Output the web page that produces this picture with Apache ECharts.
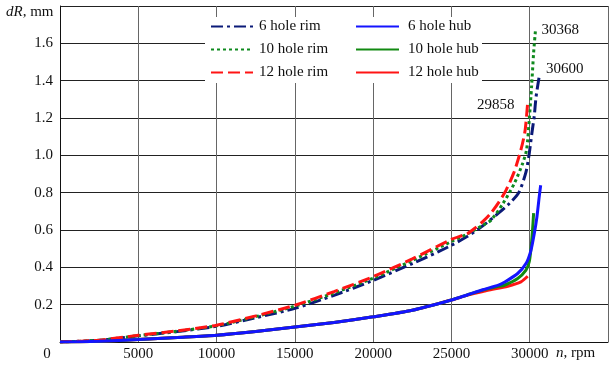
<!DOCTYPE html>
<html><head><meta charset="utf-8">
<script src="https://cdn.jsdelivr.net/npm/echarts@6/dist/echarts.min.js"></script>
<style>html,body{margin:0;padding:0;background:#fff}#c{width:611px;height:367px}</style>
</head><body><div id="c"></div>
<script>
// ---- data (n in rpm, dR in mm) ----
const rim6N  = [0,2500,5000,7500,10000,12500,15000,17500,20000,22500,24140,25000,26000,27000,28000,28700,29300,29760,29970,30140,30290,30400,30600];
const rim6R  = [0,0.009,0.033,0.056,0.084,0.13,0.18,0.25,0.33,0.42,0.483,0.518,0.565,0.622,0.69,0.742,0.80,0.91,1.01,1.12,1.21,1.31,1.42];
const rim10N = [0,2500,5000,7500,10000,12500,15000,17500,20000,22500,25000,26000,27000,27530,28280,29020,29550,29800,29970,30120,30250,30368];
const rim10R = [0,0.009,0.034,0.058,0.087,0.136,0.192,0.262,0.342,0.437,0.538,0.578,0.625,0.653,0.74,0.85,0.957,1.03,1.19,1.37,1.55,1.67];
const rim12N = [0,2500,5000,7500,10000,12500,15000,17500,20000,22500,25000,26000,26500,27000,27500,28000,28500,29000,29440,29700,29858];
const rim12R = [0,0.01,0.036,0.06,0.09,0.14,0.197,0.27,0.35,0.445,0.55,0.58,0.61,0.645,0.688,0.745,0.815,0.91,1.03,1.13,1.27];
const hub6N  = [0,2500,5000,7500,10000,12500,15000,17500,20000,22500,25000,26000,27000,28000,28380,29230,29760,30075,30290,30460,30610,30700];
const hub6R  = [0,0.004,0.013,0.024,0.036,0.056,0.08,0.105,0.135,0.17,0.225,0.252,0.28,0.305,0.32,0.367,0.42,0.49,0.58,0.67,0.78,0.84];
const hub10N = [0,2500,5000,7500,10000,12500,15000,17500,20000,22500,25000,26000,27000,28000,28380,29230,29760,29970,30080,30180,30250];
const hub10R = [0,0.004,0.013,0.024,0.036,0.056,0.08,0.105,0.135,0.17,0.225,0.252,0.278,0.298,0.304,0.34,0.385,0.43,0.50,0.60,0.69];
const hub12N = [0,2500,5000,7500,10000,12500,15000,17500,20000,22500,25000,26000,27000,27320,28600,29440,29870];
const hub12R = [0,0.004,0.013,0.024,0.036,0.056,0.08,0.105,0.135,0.17,0.225,0.25,0.27,0.277,0.299,0.322,0.352];
const seriesNames = ['6 hole rim','10 hole rim','12 hole rim','6 hole hub','10 hole hub','12 hole hub'];
const endLabels = ['30600','30368','29858'];

const pts = (n, r) => n.map((v, i) => [v, r[i]]);
const FONT = 'Liberation Serif';
const chart = echarts.init(document.getElementById('c'));

function mp(n, r, text, offset, align) {
  return { symbol: 'circle', symbolSize: 1, silent: true, itemStyle: { color: 'rgba(0,0,0,0)' },
    data: [{ coord: [n[n.length-1], r[r.length-1]],
    label: { show: true, position: 'inside', formatter: text, offset: offset, align: align, verticalAlign: 'middle',
      fontFamily: FONT, fontSize: 15, color: '#111' } }] };
}
function line(name, data, color, type, z, markPoint) {
  const s = { name, type: 'line', data, showSymbol: false, symbol: 'none', smooth: 0.25, z,
    lineStyle: { color, width: 3, type, cap: 'butt' }, itemStyle: { color } };
  if (markPoint) s.markPoint = markPoint;
  return s;
}
chart.setOption({
  animation: false,
  textStyle: { fontFamily: FONT },
  grid: { left: 60, right: 0, top: 6, bottom: 25, containLabel: false },
  xAxis: { type: 'value', min: 0, max: 35000, interval: 5000,
    axisLine: { show: true, lineStyle: { color: '#111', width: 1 } },
    axisTick: { show: false },
    splitLine: { show: true, lineStyle: { color: '#666', width: 1 } },
    axisLabel: { margin: 5, fontFamily: FONT, fontSize: 15, color: '#111',
      formatter: v => v === 0 ? '{z|0}' : (v > 31000 ? '' : String(v)),
      rich: { z: { fontFamily: FONT, fontSize: 15, color: '#111', padding: [0, 26, 0, 0] } } } },
  yAxis: { type: 'value', min: 0, max: 1.8, interval: 0.2,
    axisLine: { show: true, lineStyle: { color: '#111', width: 1 } },
    axisTick: { show: false },
    splitLine: { show: true, lineStyle: { color: '#222', width: 1 } },
    axisLabel: { margin: 7, fontFamily: FONT, fontSize: 15, color: '#111',
      formatter: v => (v === 0 || v > 1.75) ? '' : v.toFixed(1) } },
  legend: [
    { data: seriesNames.slice(0, 3), orient: 'vertical', left: 210, top: 19, padding: 0,
      itemWidth: 42, itemHeight: 14, itemGap: 8, z: 5, itemStyle: { opacity: 0 },
      textStyle: { fontFamily: FONT, fontSize: 15, color: '#111', padding: [0,0,0,1] } },
    { data: seriesNames.slice(3), orient: 'vertical', left: 355, top: 19, padding: 0,
      itemWidth: 43, itemHeight: 14, itemGap: 8, z: 5, itemStyle: { opacity: 0 },
      textStyle: { fontFamily: FONT, fontSize: 15, color: '#111', padding: [0,0,0,4] } }
  ],
  graphic: [
    { type: 'rect', shape: { x: 205, y: 17, width: 277, height: 66 }, style: { fill: '#fff' }, z: 3, silent: true },
    { type: 'text', left: 6, top: 5, z: 5, style: { text: '{i|dR}, mm', font: '15px "Liberation Serif"', fill: '#111',
      rich: { i: { fontStyle: 'italic', fontFamily: FONT, fontSize: 15, fill: '#111' } } } },
    { type: 'text', left: 556, top: 346, z: 5, style: { text: '{i|n}, rpm', font: '15px "Liberation Serif"', fill: '#111',
      rich: { i: { fontStyle: 'italic', fontFamily: FONT, fontSize: 15, fill: '#111' } } } }
  ],
  series: [
    line(seriesNames[0], pts(rim6N, rim6R), '#0b1a78', [12, 4, 3, 4], 4, mp(rim6N, rim6R, endLabels[0], [7, -8], 'left')),
    line(seriesNames[1], pts(rim10N, rim10R), '#0f8a1e', [3, 3], 5, mp(rim10N, rim10R, endLabels[1], [6, 0], 'left')),
    line(seriesNames[2], pts(rim12N, rim12R), '#ff1414', [12, 5], 6, mp(rim12N, rim12R, endLabels[2], [-13, 0], 'right')),
    line(seriesNames[3], pts(hub6N, hub6R), '#1414ff', 'solid', 6),
    line(seriesNames[4], pts(hub10N, hub10R), '#128a12', 'solid', 5),
    line(seriesNames[5], pts(hub12N, hub12R), '#ff1414', 'solid', 4)
  ]
});
</script></body></html>
